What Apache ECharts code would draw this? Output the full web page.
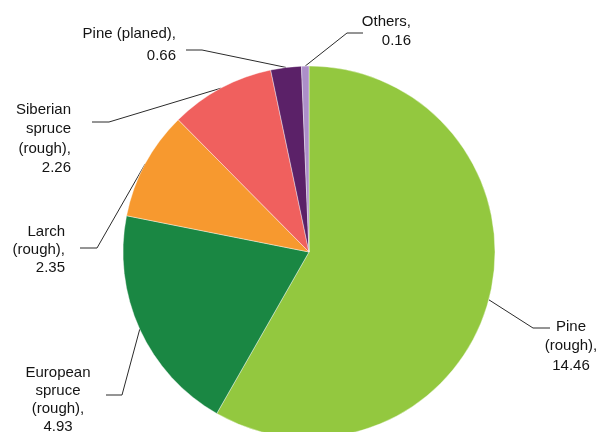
<!DOCTYPE html>
<html>
<head>
<meta charset="utf-8">
<title>Timber volumes</title>
<script src="https://cdn.jsdelivr.net/npm/echarts@6/dist/echarts.min.js"></script>
<style>
  html, body { margin: 0; padding: 0; background: #fff; }
  #chart { width: 597px; height: 432px; }
</style>
</head>
<body>
<div id="chart"></div>
<script>
// data
const categories = ['Pine (rough)', 'European spruce (rough)', 'Larch (rough)', 'Siberian spruce (rough)', 'Pine (planed)', 'Others']
const labelNames = ['Pine\n(rough)', 'European\nspruce\n(rough)', 'Larch\n(rough)', 'Siberian\nspruce\n(rough)', 'Pine (planed)', 'Others']
const values = [14.46, 4.93, 2.35, 2.26, 0.66, 0.16]

// slice colours
const colors = ['#93c83f', '#1a8743', '#f7992f', '#f0605e', '#5b2168', '#ad8fc9']

// where each label sits (x/y of anchor) and where its leader line bends / ends
const labelPlaces = [
  { x: 571, y: 317, align: 'center', lh: 19.5, bend: [533, 328], end: [550, 328] },
  { x: 58, y: 364, align: 'center', lh: 18, bend: [122, 395], end: [106, 395] },
  { x: 65, y: 223, align: 'right', lh: 18, bend: [97, 248], end: [80, 248] },
  { x: 71, y: 100, align: 'right', lh: 19.5, bend: [109, 122], end: [92, 122] },
  { x: 176, y: 23, align: 'right', lh: 22, bend: [202, 50], end: [186, 50] },
  { x: 411, y: 12, align: 'right', lh: 19, bend: [347, 33], end: [363, 33] }
]

const center = [309, 252]
const radius = 186

// fallback start point of a leader line: slice mid angle on the rim
function rimPoint(index) {
  const total = values.reduce((a, b) => a + b, 0)
  let before = 0
  for (let i = 0; i < index; i++) before += values[i]
  const ang = (before + values[index] / 2) / total * Math.PI * 2
  return [center[0] + radius * Math.sin(ang), center[1] - radius * Math.cos(ang)]
}

const chart = echarts.init(document.getElementById('chart'))

const option = {
  animation: false,
  color: colors,
  series: [{
    type: 'pie',
    center: center,
    radius: radius,
    startAngle: 90,
    clockwise: true,
    avoidLabelOverlap: false,
    itemStyle: {
      borderColor: '#fff',
      borderWidth: 0.4
    },
    label: {
      show: true,
      position: 'outside',
      color: '#141414',
      fontFamily: 'Liberation Sans, Arial, sans-serif',
      fontSize: 15,
      formatter: p => labelNames[p.dataIndex] + ',\n' + p.value.toFixed(2)
    },
    labelLine: {
      show: true,
      length: 20,
      length2: 15,
      lineStyle: { color: '#2b2b2b', width: 1 }
    },
    labelLayout: function (params) {
      const p = labelPlaces[params.dataIndex]
      const start = (params.labelLinePoints && params.labelLinePoints[0]) || rimPoint(params.dataIndex)
      return {
        x: p.x,
        y: p.y,
        align: p.align,
        verticalAlign: 'top',
        labelLinePoints: [start, p.bend, p.end]
      }
    },
    emphasis: { disabled: true },
    data: categories.map((name, i) => ({
      name: name,
      value: values[i],
      label: { align: labelPlaces[i].align, lineHeight: labelPlaces[i].lh }
    }))
  }]
}

chart.setOption(option)
</script>
</body>
</html>
